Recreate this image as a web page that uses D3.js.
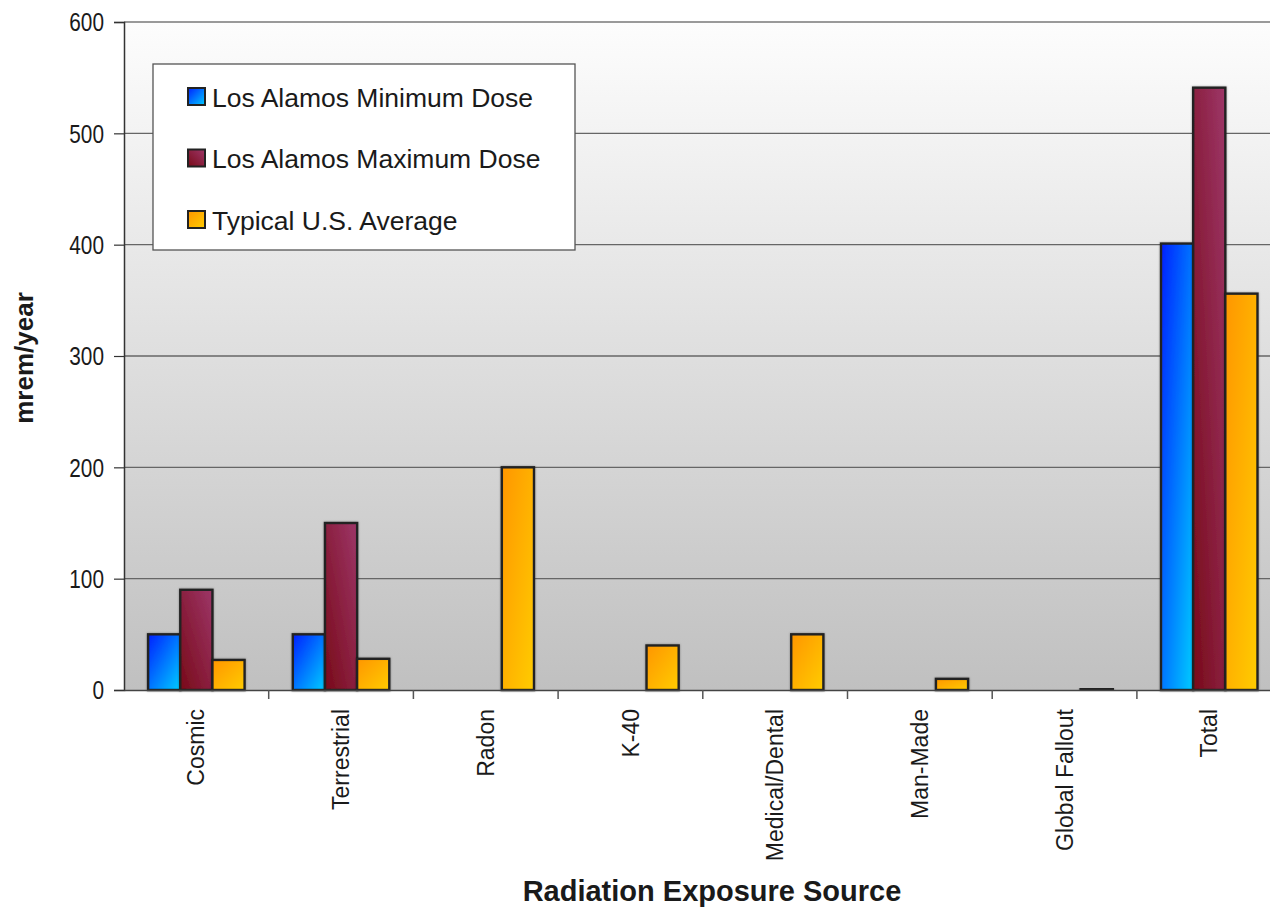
<!DOCTYPE html>
<html>
<head>
<meta charset="utf-8">
<script src="https://cdn.jsdelivr.net/npm/d3@7"></script>
<style>
  html, body { margin: 0; padding: 0; background: #ffffff; }
  svg { display: block; }
  text { font-family: "Liberation Sans", Arial, sans-serif; fill: #1a1a1a; }
</style>
</head>
<body>
<script>
// Radiation dose by exposure source (mrem/year)
const categories = ["Cosmic", "Terrestrial", "Radon", "K-40", "Medical/Dental", "Man-Made", "Global Fallout", "Total"];
const seriesNames = ["Los Alamos Minimum Dose", "Los Alamos Maximum Dose", "Typical U.S. Average"];
const minDose = [50, 50, 0, 0, 0, 0, 0, 401];
const maxDose = [90, 150, 0, 0, 0, 0, 0, 541];
const usAverage = [27, 28, 200, 40, 50, 10, 1, 356];
const yTicks = [0, 100, 200, 300, 400, 500, 600];

const seriesValues = [minDose, maxDose, usAverage];
const seriesKeys = ["min", "max", "avg"];

const W = 1270, H = 913;
const plot = { left: 124, top: 22, bottom: 690, right: 124 + 8 * 144.7 };

const svg = d3.select("body").append("svg")
  .attr("width", W).attr("height", H);

const defs = svg.append("defs");

// plot background: white at the top fading to grey at the base
const bg = defs.append("linearGradient").attr("id", "plotBg")
  .attr("x1", 0).attr("y1", 0).attr("x2", 0).attr("y2", 1);
bg.append("stop").attr("offset", 0).attr("stop-color", "#fdfdfd");
bg.append("stop").attr("offset", 1).attr("stop-color", "#c0c0c0");

// bar fills
const fills = {
  min: { x1: 0, y1: 0, x2: 1, y2: 1, stops: ["#0020ff", "#00ccff"] },
  max: { x1: 0, y1: 1, x2: 1, y2: 0, stops: ["#780a18", "#9d3668"] },
  avg: { x1: 0, y1: 0, x2: 1, y2: 1, stops: ["#ff9600", "#ffcc00"] }
};
Object.entries(fills).forEach(([k, f]) => {
  const g = defs.append("linearGradient").attr("id", "fill-" + k)
    .attr("x1", f.x1).attr("y1", f.y1).attr("x2", f.x2).attr("y2", f.y2);
  g.append("stop").attr("offset", 0).attr("stop-color", f.stops[0]);
  g.append("stop").attr("offset", 1).attr("stop-color", f.stops[1]);
});

const shadow = defs.append("filter").attr("id", "barShadow")
  .attr("x", "-20%").attr("y", "-20%").attr("width", "140%").attr("height", "140%");
shadow.append("feDropShadow").attr("dx", 0).attr("dy", 0).attr("stdDeviation", 1.2)
  .attr("flood-color", "#000").attr("flood-opacity", 0.35);

// scales
const x = d3.scaleBand().domain(categories).range([plot.left, plot.right]).padding(0);
const x1 = d3.scaleBand().domain(seriesKeys)
  .range([0, x.bandwidth()]).paddingInner(0).paddingOuter(0.75);
const y = d3.scaleLinear().domain([0, 600]).range([plot.bottom, plot.top]);

// plot area
svg.append("rect")
  .attr("x", plot.left).attr("y", plot.top)
  .attr("width", plot.right - plot.left).attr("height", plot.bottom - plot.top)
  .attr("fill", "url(#plotBg)");

// gridlines
svg.append("g")
  .selectAll("line").data(yTicks.filter(t => t > 0)).join("line")
  .attr("x1", plot.left).attr("x2", plot.right)
  .attr("y1", d => y(d)).attr("y2", d => y(d))
  .attr("stroke", d => d === 600 ? "#9a9a9a" : "#666")
  .attr("stroke-width", d => d === 600 ? 2 : 1.4);

// bars
const groups = svg.append("g").selectAll("g").data(categories).join("g")
  .attr("transform", c => `translate(${x(c)},0)`);

groups.selectAll("rect")
  .data((c, i) => seriesKeys.map((k, s) => ({ key: k, value: seriesValues[s][i] })).filter(d => d.value > 0))
  .join("rect")
  .attr("x", d => x1(d.key))
  .attr("y", d => y(d.value))
  .attr("width", x1.bandwidth())
  .attr("height", d => y(0) - y(d.value))
  .attr("fill", d => `url(#fill-${d.key})`)
  .attr("stroke", "#222")
  .attr("stroke-width", 2.4)
  .attr("filter", "url(#barShadow)");

// y axis
const yAxis = svg.append("g")
  .attr("transform", `translate(${plot.left},0)`)
  .call(d3.axisLeft(y).tickValues(yTicks).tickSize(10).tickPadding(10));
yAxis.select(".domain").attr("stroke", "#333").attr("stroke-width", 1.5);
yAxis.selectAll(".tick line").attr("stroke", "#333").attr("stroke-width", 1.2);
yAxis.selectAll(".tick text")
  .attr("font-size", 26)
  .attr("fill", "#1a1a1a")
  .attr("font-family", "'Liberation Sans', Arial, sans-serif")
  .attr("x", 0)
  .attr("transform", "translate(-20,0) scale(0.8,1)")
  .attr("dy", "0.34em");

// x axis
const xAxis = svg.append("g")
  .attr("transform", `translate(0,${plot.bottom})`)
  .call(d3.axisBottom(x).tickSize(0).tickPadding(0));
xAxis.select(".domain").attr("stroke", "#444").attr("stroke-width", 1.5);
xAxis.selectAll(".tick text")
  .attr("font-size", 23)
  .attr("fill", "#1a1a1a")
  .attr("font-family", "'Liberation Sans', Arial, sans-serif")
  .attr("text-anchor", "end")
  .attr("dy", "0.35em")
  .attr("y", 0)
  .attr("transform", "translate(0,19) rotate(-90)");

// category boundary ticks
svg.append("g").selectAll("line")
  .data(categories.slice(1)).join("line")
  .attr("x1", c => x(c)).attr("x2", c => x(c))
  .attr("y1", plot.bottom).attr("y2", plot.bottom + 9)
  .attr("stroke", "#555").attr("stroke-width", 1.5);

// axis titles
svg.append("text")
  .attr("transform", `translate(33,358) rotate(-90)`)
  .attr("text-anchor", "middle")
  .attr("font-size", 26).attr("font-weight", "bold")
  .text("mrem/year");

svg.append("text")
  .attr("x", 712).attr("y", 901)
  .attr("text-anchor", "middle")
  .attr("font-size", 29).attr("font-weight", "bold")
  .text("Radiation Exposure Source");

// legend
const legend = svg.append("g").attr("transform", "translate(153,64)");
legend.append("rect")
  .attr("width", 422).attr("height", 186)
  .attr("fill", "#ffffff").attr("stroke", "#555").attr("stroke-width", 1.3);
const items = legend.selectAll("g.item").data(seriesKeys).join("g")
  .attr("class", "item")
  .attr("transform", (d, i) => `translate(35,${33 + i * 61.5})`);
items.append("rect")
  .attr("x", 0).attr("y", -9)
  .attr("width", 17).attr("height", 17)
  .attr("fill", d => `url(#fill-${d})`)
  .attr("stroke", "#222").attr("stroke-width", 2);
items.append("text")
  .attr("x", 24).attr("y", 0).attr("dy", "0.36em")
  .attr("font-size", 26.5)
  .text((d, i) => seriesNames[i]);
</script>
</body>
</html>
